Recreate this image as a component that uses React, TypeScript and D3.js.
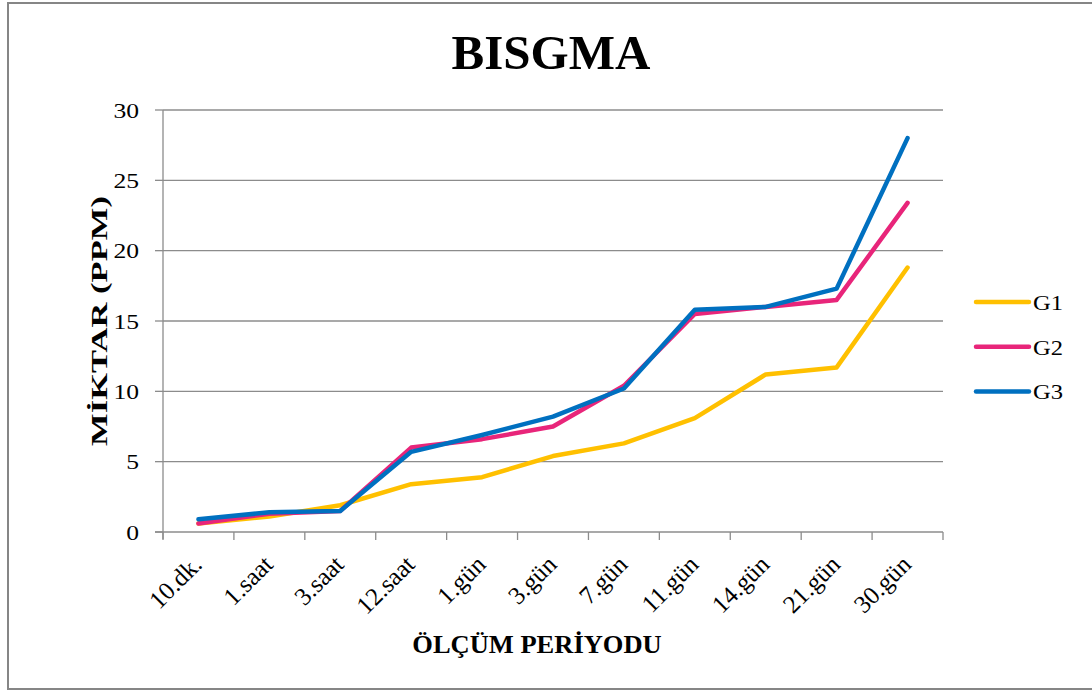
import React from "react";
import * as d3 from "d3";

const categories = ["10.dk.", "1.saat", "3.saat", "12.saat", "1.gün", "3.gün", "7.gün", "11.gün", "14.gün", "21.gün", "30.gün"];
const g1 = [0.6, 1.1, 1.9, 3.4, 3.9, 5.4, 6.3, 8.1, 11.2, 11.7, 18.8];
const g2 = [0.6, 1.3, 1.5, 6.0, 6.6, 7.5, 10.4, 15.5, 16.0, 16.5, 23.4];
const g3 = [0.9, 1.4, 1.5, 5.7, 6.9, 8.2, 10.2, 15.8, 16.0, 17.3, 28.0];
const yTicks = [0, 5, 10, 15, 20, 25, 30];
const seriesNames = ["G1", "G2", "G3"];
const seriesColors = ["#FFC000", "#E8257A", "#0070C0"];

export default function App() {
  const W = 1092, H = 691;
  const left = 163, right = 943, top = 110, bottom = 532;
  const x = d3.scaleBand<string>().domain(categories).range([left, right]);
  const y = d3.scaleLinear().domain([0, 30]).range([bottom, top]);
  const line = d3.line<number>()
    .x((_, i) => (x(categories[i]) as number) + x.bandwidth() / 2)
    .y((v) => y(v));
  const series = [g1, g2, g3];
  const font = "'Liberation Serif', 'Times New Roman', serif";
  const tickXs = categories.map((c) => x(c) as number).concat([right]);
  const sx = 1.22;

  return (
    <svg width={W} height={H} style={{ position: "absolute", left: 0, top: 0 }} fontFamily={font}>
      <rect x={0} y={0} width={W} height={H} fill="#fff" />
      <rect x={8} y={3} width={W + 10} height={686} fill="none" stroke="#868686" strokeWidth={2} />
      <text x={551} y={69} textAnchor="middle" fontSize={49} fontWeight="bold">BISGMA</text>
      {yTicks.map((t) => (
        <g key={t}>
          {t > 0 && <line x1={left} x2={right} y1={y(t)} y2={y(t)} stroke="#8c8c8c" strokeWidth={1.3} />}
          <line x1={155} x2={left} y1={y(t)} y2={y(t)} stroke="#8c8c8c" strokeWidth={1.3} />
          <text x={0} y={0} textAnchor="end" fontSize={21} transform={`translate(139 ${y(t) + 7.5}) scale(${sx} 1)`}>{t}</text>
        </g>
      ))}
      <line x1={left} x2={left} y1={top} y2={bottom + 7} stroke="#8c8c8c" strokeWidth={1.3} />
      <line x1={155} x2={right} y1={bottom} y2={bottom} stroke="#8c8c8c" strokeWidth={1.3} />
      {tickXs.map((tx, i) => (
        <line key={i} x1={tx} x2={tx} y1={bottom} y2={bottom + 8} stroke="#8c8c8c" strokeWidth={1.3} />
      ))}
      {categories.map((c) => {
        const cx = (x(c) as number) + x.bandwidth() / 2 + 5;
        const cy = 566;
        return (
          <text key={c} x={0} y={0} textAnchor="end" fontSize={25} transform={`translate(${cx} ${cy}) rotate(-45)`}>{c}</text>
        );
      })}
      <text x={0} y={0} textAnchor="middle" fontSize={25} fontWeight="bold" transform={`translate(537 653) scale(1.06 1)`}>ÖLÇÜM PERİYODU</text>
      <text x={0} y={0} textAnchor="middle" fontSize={24} fontWeight="bold" transform={`translate(107 321) rotate(-90) scale(1.44 1)`}>MİKTAR (PPM)</text>
      {series.map((s, i) => (
        <path key={i} d={line(s) || ""} fill="none" stroke={seriesColors[i]} strokeWidth={4.5} strokeLinejoin="round" strokeLinecap="round" />
      ))}
      {seriesNames.map((n, i) => {
        const ly = 302 + i * 44.7;
        return (
          <g key={n}>
            <line x1={976} x2={1029} y1={ly} y2={ly} stroke={seriesColors[i]} strokeWidth={4.5} strokeLinecap="round" />
            <text x={0} y={0} fontSize={21} transform={`translate(1033 ${ly + 8}) scale(1.17 1)`}>{n}</text>
          </g>
        );
      })}
    </svg>
  );
}
